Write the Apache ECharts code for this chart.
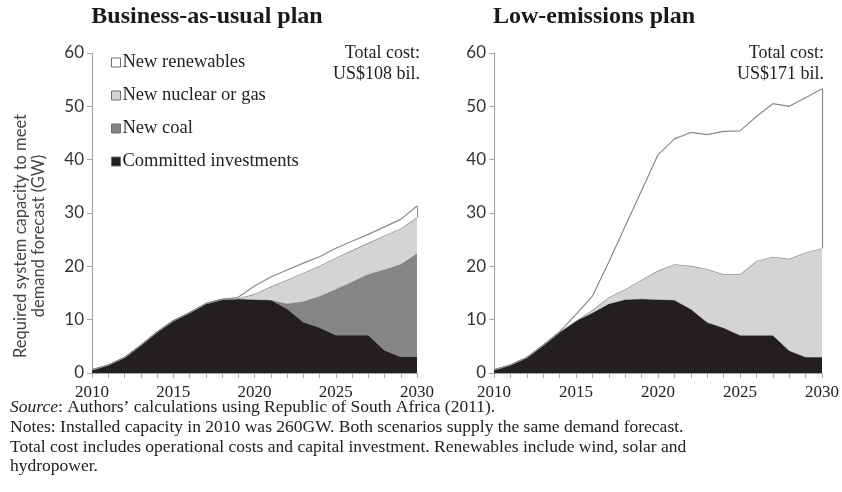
<!DOCTYPE html>
<html>
<head>
<meta charset="utf-8">
<script src="https://cdn.jsdelivr.net/npm/echarts@6/dist/echarts.min.js"></script>
<style>html,body{margin:0;padding:0;background:#fff;}#c{width:842px;height:492px;}</style>
</head>
<body>
<div id="c"></div>
<script>
const years = ['2010','2011','2012','2013','2014','2015','2016','2017','2018','2019','2020','2021','2022','2023','2024','2025','2026','2027','2028','2029','2030'];
const yTicks = [0, 10, 20, 30, 40, 50, 60];
// Committed investments (same in both scenarios), GW
const committed = [0.6, 1.5, 2.9, 5.2, 7.7, 9.8, 11.3, 13.0, 13.8, 13.9, 13.8, 13.7, 12.0, 9.5, 8.5, 7.1, 7.1, 7.1, 4.2, 3.0, 3.0];
// Business-as-usual increments (stacked)
const bauCoal    = [0, 0, 0, 0, 0, 0, 0, 0, 0, 0, 0, 0, 1.0, 3.9, 5.9, 8.6, 10.0, 11.4, 15.2, 17.4, 19.4];
const bauNuclear = [0, 0, 0, 0, 0, 0, 0, 0, 0, 0.1, 1.0, 2.5, 4.5, 5.4, 5.7, 5.9, 5.9, 5.9, 6.4, 6.7, 6.8];
const bauRenew   = [0, 0, 0, 0, 0, 0, 0, 0, 0, 0.2, 1.5, 1.8, 1.8, 1.8, 1.7, 1.8, 1.7, 1.6, 1.6, 1.7, 2.1];
// Low-emissions increments (stacked)
const lowCoal    = [0, 0, 0, 0, 0, 0, 0, 0, 0, 0, 0, 0, 0, 0, 0, 0, 0, 0, 0, 0, 0];
const lowNuclear = [0, 0, 0, 0, 0, 0, 0.5, 1.2, 1.9, 3.6, 5.4, 6.7, 8.1, 10.0, 10.0, 11.4, 13.9, 14.7, 17.2, 19.6, 20.4];
const lowRenew   = [0, 0, 0, 0, 0, 1.2, 2.6, 6.6, 11.8, 16.7, 21.7, 23.5, 25.0, 25.2, 26.8, 26.9, 27.1, 28.7, 28.6, 29.0, 29.9];
const titles = ['Business-as-usual plan', 'Low-emissions plan'];
const costs = ['US$108 bil.', 'US$171 bil.'];
const names = ['Committed investments', 'New coal', 'New nuclear or gas', 'New renewables'];

const C_COMMIT = '#231f20', C_COAL = '#858585', C_NUC = '#d4d4d6', C_REN = '#ffffff', C_LINE = '#8a8a8a';
const serif = 'Liberation Serif';

function lastIdx(){ return years.length - 1; }
function sumAt(arrs, i){ return arrs.reduce((s,a)=>s+a[i],0); }

function makeSeries(gi, coal, nuc, ren){
  const st = 's' + gi;
  const n = lastIdx();
  const top = sumAt([committed, coal, nuc, ren], n);
  const nucTop = sumAt([committed, coal, nuc], n);
  const base = {type:'line', stack: st, xAxisIndex: gi, yAxisIndex: gi, symbol:'none', showSymbol:false, silent:true, animation:false};
  return [
    Object.assign({}, base, {name: names[0], data: committed, itemStyle:{color:C_COMMIT}, lineStyle:{width:0.8, color:C_COMMIT}, areaStyle:{color:C_COMMIT, opacity:1}, z:2}),
    Object.assign({}, base, {name: names[1], data: coal, itemStyle:{color:C_COAL}, lineStyle:{width:1, color:C_LINE}, areaStyle:{color:C_COAL, opacity:1}, z:3}),
    Object.assign({}, base, {name: names[2], data: nuc, itemStyle:{color:C_NUC}, lineStyle:{width:1.2, color:C_LINE}, areaStyle:{color:C_NUC, opacity:1}, z:4}),
    Object.assign({}, base, {name: names[3], data: ren, itemStyle:{color:C_REN}, lineStyle:{width:1.2, color:C_LINE}, areaStyle:{color:C_REN, opacity:1}, z:5,
      markLine:{silent:true, symbol:'none', label:{show:false}, lineStyle:{color:C_LINE, width:1.2, type:'solid'},
        data:[[{coord:[years[n], top]}, {coord:[years[n], nucTop]}]]}})
  ];
}

function xAxis(gi){
  return {type:'category', gridIndex:gi, data:years, boundaryGap:false,
    axisLine:{lineStyle:{color:'#a8a8a8', width:1.2}},
    axisTick:{show:true, interval:0, length:5, lineStyle:{color:'#a8a8a8'}},
    axisLabel:{interval:4, color:'#222', fontFamily:serif, fontSize:17, margin:11},
    splitLine:{show:false}};
}
function yAxis(gi){
  return {type:'value', gridIndex:gi, min:yTicks[0], max:yTicks[yTicks.length-1], interval:10,
    axisLine:{show:true, lineStyle:{color:'#a8a8a8', width:1.2}},
    axisTick:{show:true, length:5, lineStyle:{color:'#a8a8a8'}},
    axisLabel:{color:'#333', fontFamily:'Lato', fontSize:17, margin:8},
    splitLine:{show:false}};
}

const chart = echarts.init(document.getElementById('c'), null, {renderer:'canvas'});
const option = {
  backgroundColor:'#fff',
  animation:false,
  grid:[
    {left:92, top:53, width:325, height:320},
    {left:494, top:53, width:330, height:320}
  ],
  xAxis:[xAxis(0), xAxis(1)],
  yAxis:[yAxis(0), yAxis(1)],
  legend:{show:true, orient:'vertical', left:106, top:48, itemGap:14, itemWidth:9, itemHeight:9, icon:'rect',
    selectedMode:false,
    data:[names[3], names[2], names[1], names[0]],
    itemStyle:{borderColor:'#6f6f6f', borderWidth:1},
    textStyle:{fontFamily:serif, fontSize:18.5, color:'#222', lineHeight:18, padding:[0,0,0,-3]}},
  series:[].concat(makeSeries(0, bauCoal, bauNuclear, bauRenew), makeSeries(1, lowCoal, lowNuclear, lowRenew)),
  graphic:[
    {type:'text', x:207, y:5, style:{text:titles[0], fontFamily:serif, fontWeight:'bold', fontSize:24, fill:'#1a1a1a', align:'center'}},
    {type:'text', x:594, y:5, style:{text:titles[1], fontFamily:serif, fontWeight:'bold', fontSize:24, fill:'#1a1a1a', align:'center'}},
    {type:'text', x:420, y:43, style:{text:'Total cost:\n' + costs[0], fontFamily:serif, fontSize:18, lineHeight:21, fill:'#222', align:'right'}},
    {type:'text', x:824, y:43, style:{text:'Total cost:\n' + costs[1], fontFamily:serif, fontSize:18, lineHeight:21, fill:'#222', align:'right'}},
    {type:'text', x:30, y:236, rotation:Math.PI/2, style:{text:'Required system capacity to meet\ndemand forecast (GW)', fontFamily:'Lato', fontSize:16.5, lineHeight:18, fill:'#444', align:'center', verticalAlign:'middle'}},
    {type:'text', x:10, y:398, style:{text:'{i|Source}: Authors\u2019 calculations using Republic of South Africa (2011).', fontFamily:serif, fontSize:17.5, fill:'#222',
      rich:{i:{fontFamily:serif, fontSize:17.5, fontStyle:'italic', fill:'#222'}}}},
    {type:'text', x:10, y:418, style:{text:'Notes: Installed capacity in 2010 was 260GW. Both scenarios supply the same demand forecast.', fontFamily:serif, fontSize:17.5, fill:'#222'}},
    {type:'text', x:10, y:438, style:{text:'Total cost includes operational costs and capital investment. Renewables include wind, solar and', fontFamily:serif, fontSize:17.5, fill:'#222'}},
    {type:'text', x:10, y:457, style:{text:'hydropower.', fontFamily:serif, fontSize:17.5, fill:'#222'}}
  ]
};
chart.setOption(option);
</script>
</body>
</html>
